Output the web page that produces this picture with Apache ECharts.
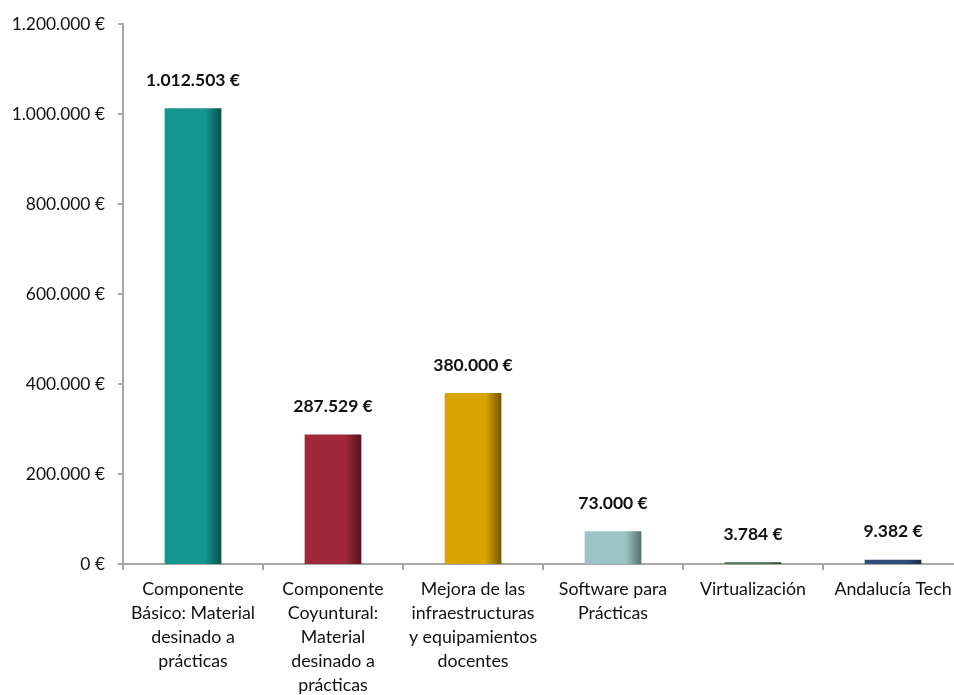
<!DOCTYPE html>
<html><head><meta charset="utf-8">
<script src="https://cdn.jsdelivr.net/npm/echarts@6/dist/echarts.min.js"></script>
<style>html,body{margin:0;padding:0;background:#fff}#c{width:954px;height:695px}</style>
</head><body><div id="c"></div>
<script>
const categories = [
  "Componente\nBásico: Material\ndesinado a\nprácticas",
  "Componente\nCoyuntural:\nMaterial\ndesinado a\nprácticas",
  "Mejora de las\ninfraestructuras\ny equipamientos\ndocentes",
  "Software para\nPrácticas",
  "Virtualización",
  "Andalucía Tech"
];
const values = [1012503, 287529, 380000, 73000, 3784, 9382];
const barColors = ["#12968f", "#a0283a", "#d9a400", "#9dc4c4", "#4b6e4c", "#2f4d78"];
const darkColors = ["#0b4f4c", "#55141f", "#735700", "#56706f", "#27402a", "#182b45"];
const yTicks = { min: 0, max: 1200000, interval: 200000 };

function fmt(v) {
  return String(v).replace(/\B(?=(\d{3})+(?!\d))/g, ".") + " €";
}
const FONT = "Lato";
const chart = echarts.init(document.getElementById('c'));
chart.setOption({
  animation: false,
  grid: { left: 123, right: -9, top: 24, bottom: 131, containLabel: false, outerBoundsMode: 'none' },
  xAxis: {
    type: 'category',
    data: categories,
    axisLine: { lineStyle: { color: '#a6a6a6', width: 2 } },
    axisTick: { show: true, length: 6, lineStyle: { color: '#a6a6a6', width: 2 } },
    axisLabel: { color: '#111', fontFamily: FONT, fontSize: 17.8, lineHeight: 24, margin: 13, interval: 0, hideOverlap: false }
  },
  yAxis: {
    type: 'value',
    min: yTicks.min, max: yTicks.max, interval: yTicks.interval,
    axisLine: { show: true, lineStyle: { color: '#a6a6a6', width: 2 } },
    axisTick: { show: true, length: 5, lineStyle: { color: '#a6a6a6', width: 2 } },
    splitLine: { show: false },
    axisLabel: { color: '#111', fontFamily: FONT, fontSize: 17.4, margin: 18, formatter: v => fmt(v) }
  },
  series: [{
    type: 'bar',
    barWidth: '40.5%',
    data: values.map((v, i) => ({
      value: v,
      itemStyle: {
        color: new echarts.graphic.LinearGradient(0, 0, 1, 0, [
          { offset: 0, color: barColors[i] },
          { offset: 0.72, color: barColors[i] },
          { offset: 1, color: darkColors[i] }
        ])
      }
    })),
    label: {
      show: true, position: 'top', distance: 19,
      fontFamily: FONT, fontSize: 17.5, fontWeight: 'bold', color: '#111',
      formatter: p => fmt(p.value)
    }
  }]
});
</script></body></html>
